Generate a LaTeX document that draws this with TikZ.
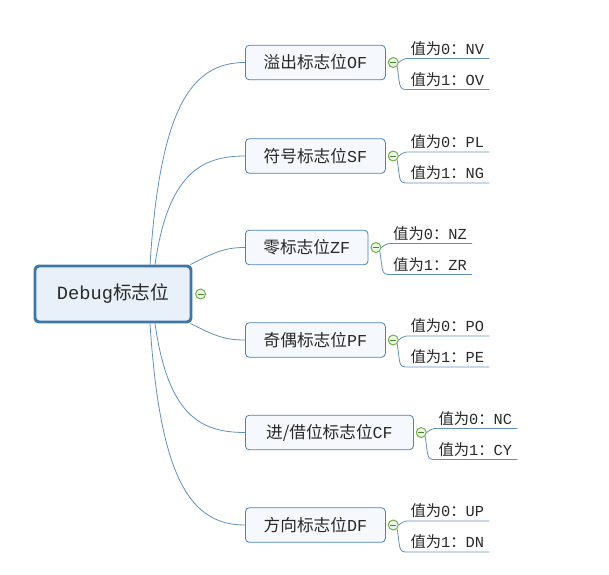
\documentclass[tikz,border=0pt]{standalone}
\usepackage{fontspec}
\setmainfont{Liberation Mono}
\newfontfamily\cjkfont{Noto Sans CJK SC}
\usetikzlibrary{positioning,calc}
\definecolor{MapLine}{RGB}{98,144,188}
\definecolor{TopicBorder}{RGB}{78,130,180}
\definecolor{RootBorder}{RGB}{62,118,165}
\definecolor{RootFill}{RGB}{232,241,250}
\definecolor{TopicFill}{RGB}{245,249,253}
\definecolor{ToggleGreen}{RGB}{106,172,62}
\definecolor{MapText}{RGB}{40,40,40}
\newcommand{\zh}[1]{{\cjkfont #1}}

\begin{document}
\begin{tikzpicture}[
    x=0.75pt, y=-0.75pt,
    root/.style={rectangle, rounded corners=3pt, draw=RootBorder, line width=2.2pt,
                 fill=RootFill, minimum width=117pt, minimum height=42pt,
                 text=MapText, font=\fontsize{14}{16}\selectfont},
    topic/.style={rectangle, rounded corners=3pt, draw=TopicBorder, line width=0.6pt,
                  fill=TopicFill, minimum width=105pt, minimum height=26pt, anchor=west,
                  text=MapText, font=\fontsize{12.5}{15}\selectfont},
    leaf/.style={anchor=south west, text width=56pt, inner xsep=3pt, inner ysep=2pt,
                 align=left, text=MapText, font=\fontsize{11.5}{13}\selectfont},
    toggle/.style={circle, draw=ToggleGreen, fill=ToggleGreen!12, line width=0.7pt,
                   minimum size=7.5pt, inner sep=0pt,
                   path picture={\draw[ToggleGreen!75!black, line width=0.7pt]
                     ($(path picture bounding box.center)+(-2.2pt,0)$) --
                     ($(path picture bounding box.center)+(2.2pt,0)$);}},
    link/.style={draw=MapLine, line width=0.6pt}
]
\useasboundingbox (0,0) rectangle (609,574);

% central topic
\node[root] (root) at (113,294) {Debug\zh{标志位}};
\node[toggle, right=2pt of root] (rootc) {};

% main branches
\node[topic] (of) at (245,62.5) {\zh{溢出标志位}OF};
\node[topic] (sf) at (245,156) {\zh{符号标志位}SF};
\node[topic, minimum width=92pt] (zf) at (245,247.5) {\zh{零标志位}ZF};
\node[topic] (pf) at (245,340) {\zh{奇偶标志位}PF};
\node[topic, minimum width=126pt] (cf) at (245,432.5) {\zh{进/借位标志位}CF};
\node[topic] (df) at (245,525) {\zh{方向标志位}DF};

\node[toggle, right=1.5pt of of] (ofc) {};
\node[toggle, right=1.5pt of sf] (sfc) {};
\node[toggle, right=1.5pt of zf] (zfc) {};
\node[toggle, right=1.5pt of pf] (pfc) {};
\node[toggle, right=1.5pt of cf] (cfc) {};
\node[toggle, right=1.5pt of df] (dfc) {};

% root to branches
\draw[link] ($(root.north)+(37,0)$) .. controls (160,110) and (190,62.5) .. (of.west);
\draw[link] ($(root.north)+(42,0)$) .. controls (168,175) and (200,156) .. (sf.west);
\draw[link] ($(root.north east)+(-2,0)$) .. controls (215,252) and (225,247.5) .. (zf.west);
\draw[link] ($(root.south east)+(-2,0)$) .. controls (215,336) and (225,340) .. (pf.west);
\draw[link] ($(root.south)+(42,0)$) .. controls (168,415) and (200,432.5) .. (cf.west);
\draw[link] ($(root.south)+(37,0)$) .. controls (160,478) and (190,525) .. (df.west);

% values
\node[leaf] (of0) at ($(ofc)+(13,-4)$) {\zh{值为}0\zh{：}NV};
\node[leaf] (of1) at ($(ofc)+(13,27)$) {\zh{值为}1\zh{：}OV};
\node[leaf] (sf0) at ($(sfc)+(13,-4)$) {\zh{值为}0\zh{：}PL};
\node[leaf] (sf1) at ($(sfc)+(13,27)$) {\zh{值为}1\zh{：}NG};
\node[leaf] (zf0) at ($(zfc)+(13,-4)$) {\zh{值为}0\zh{：}NZ};
\node[leaf] (zf1) at ($(zfc)+(13,27)$) {\zh{值为}1\zh{：}ZR};
\node[leaf] (pf0) at ($(pfc)+(13,-4)$) {\zh{值为}0\zh{：}PO};
\node[leaf] (pf1) at ($(pfc)+(13,27)$) {\zh{值为}1\zh{：}PE};
\node[leaf] (cf0) at ($(cfc)+(13,-4)$) {\zh{值为}0\zh{：}NC};
\node[leaf] (cf1) at ($(cfc)+(13,27)$) {\zh{值为}1\zh{：}CY};
\node[leaf] (df0) at ($(dfc)+(13,-4)$) {\zh{值为}0\zh{：}UP};
\node[leaf] (df1) at ($(dfc)+(13,27)$) {\zh{值为}1\zh{：}DN};

% branches to values
\draw[link] (ofc.east) .. controls +(4,-3) .. (of0.south west) -- (of0.south east);
\draw[link] (ofc.south east) .. controls +(3,18) and +(-8,0) .. (of1.south west) -- (of1.south east);
\draw[link] (sfc.east) .. controls +(4,-3) .. (sf0.south west) -- (sf0.south east);
\draw[link] (sfc.south east) .. controls +(3,18) and +(-8,0) .. (sf1.south west) -- (sf1.south east);
\draw[link] (zfc.east) .. controls +(4,-3) .. (zf0.south west) -- (zf0.south east);
\draw[link] (zfc.south east) .. controls +(3,18) and +(-8,0) .. (zf1.south west) -- (zf1.south east);
\draw[link] (pfc.east) .. controls +(4,-3) .. (pf0.south west) -- (pf0.south east);
\draw[link] (pfc.south east) .. controls +(3,18) and +(-8,0) .. (pf1.south west) -- (pf1.south east);
\draw[link] (cfc.east) .. controls +(4,-3) .. (cf0.south west) -- (cf0.south east);
\draw[link] (cfc.south east) .. controls +(3,18) and +(-8,0) .. (cf1.south west) -- (cf1.south east);
\draw[link] (dfc.east) .. controls +(4,-3) .. (df0.south west) -- (df0.south east);
\draw[link] (dfc.south east) .. controls +(3,18) and +(-8,0) .. (df1.south west) -- (df1.south east);

\end{tikzpicture}
\end{document}
